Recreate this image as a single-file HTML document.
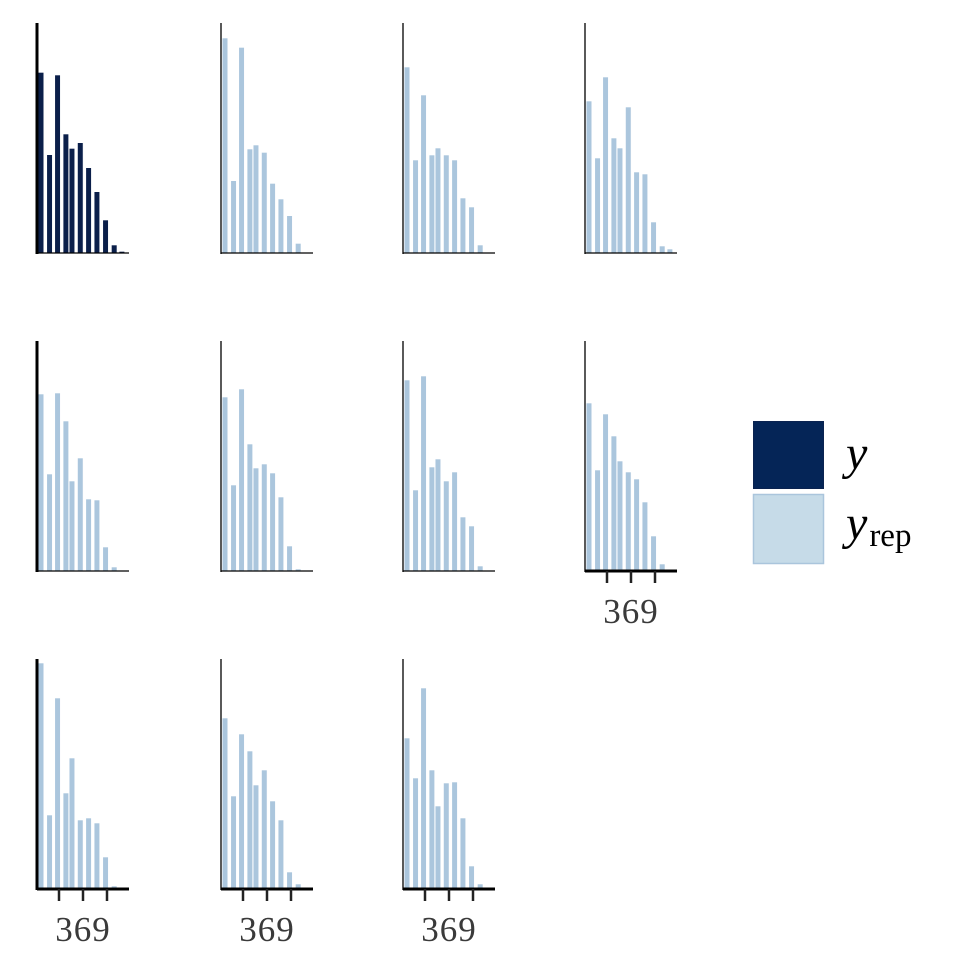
<!DOCTYPE html>
<html><head><meta charset="utf-8">
<style>
html,body{margin:0;padding:0;background:#fff;}
svg{display:block;}
</style></head>
<body>
<svg id="chart" width="975" height="975" viewBox="0 0 975 975" xmlns="http://www.w3.org/2000/svg">
<g id="panels"></g>
<g>
  <rect x="753.5" y="421.5" width="70" height="67" fill="#052557" stroke="#0b2350" stroke-width="1"/>
  <rect x="753.5" y="494.5" width="70" height="69" fill="#c6dbe8" stroke="#aac5dc" stroke-width="1.5"/>
  <text x="846" y="469" font-family="'Liberation Serif',serif" font-style="italic" font-size="48" fill="#000">y</text>
  <text x="846" y="539" font-family="'Liberation Serif',serif" font-size="48" fill="#000"><tspan font-style="italic">y</tspan><tspan font-size="33" dx="2" dy="7">rep</tspan></text>
</g>
</svg>
<script>
// bin centers (data units, shared x scale)
const binCenters = [0.75,1.82,2.82,3.86,4.62,5.66,6.7,7.74,8.82,9.9,10.86,11.8];
const xTicks = [3,6,9];
const tickLabel = "369";
// bar heights (counts) per panel
const panel1 = [180.6,98.3,178,119,104.6,110.3,85.3,61.3,33,8,1.6];
const panel2 = [215,72.3,205.6,104,108,100.6,69.6,54,37.3,9.6];
const panel3 = [186,93,158,98,105,98,93,55,46,8];
const panel4 = [152,95,176,115,105,146,81,79,31,7,4];
const panel5 = [177,97,178,150,90,113,72,71,24,4];
const panel6 = [174,86,182,127,103,107,98,74,25,2];
const panel7 = [191,81,195,104,112,90,99,54,45,5];
const panel8 = [168,101,157,135,110,99,92,69,35,7];
const panel9 = [226,74,191,96,131,69,71,66,32,3];
const panel10 = [171,93,155,138,104,119,88,69,17,5,1];
const panel11 = [151,111,201,119,83,106,107,71,23,5];

const NS = "http://www.w3.org/2000/svg";
const g = document.getElementById('panels');
const layout = [
  {d:panel1, ax:37, base:253, dark:true, left:true, ticks:false},
  {d:panel2, ax:221, base:253, ticks:false},
  {d:panel3, ax:403, base:253, ticks:false},
  {d:panel4, ax:585, base:253, ticks:false},
  {d:panel5, ax:37, base:571, left:true, ticks:false},
  {d:panel6, ax:221, base:571, ticks:false},
  {d:panel7, ax:403, base:571, ticks:false},
  {d:panel8, ax:585, base:571, ticks:true},
  {d:panel9, ax:37, base:889, left:true, ticks:true},
  {d:panel10, ax:221, base:889, ticks:true},
  {d:panel11, ax:403, base:889, ticks:true},
];
const PH = 228; // panel height px
function el(tag, attrs){const e=document.createElementNS(NS,tag);for(const k in attrs)e.setAttribute(k,attrs[k]);return e;}
layout.forEach((p,i)=>{
  const pg = el('g',{});
  
  
  g.appendChild(pg);
  const xs = v => p.ax - 2 + v*8;
  const maxV = Math.max(...p.d);
  const yMax = Math.max(maxV, 228);
  const ys = v => p.base - v/yMax*PH;
  p.d.forEach((v,j)=>{
    const cx = xs(binCenters[j]);
    const r = el('rect',{x:cx-2.8,y:ys(v),width:5.6,height:p.base-ys(v),
      fill:p.dark?'#0b1f4a':'#abc6dd', stroke:'#fff','stroke-width':0.6});
    
    
    pg.appendChild(r);
  });
  const yAxis = el('line',{x1:p.ax,y1:p.base-PH-2,x2:p.ax,y2:p.base+1,stroke:'#000','stroke-width':p.left?3:1.3});
  
  
  pg.appendChild(yAxis);
  const xAxis = el('line',{x1:p.ax,y1:p.base,x2:p.ax+92,y2:p.base,stroke:'#000','stroke-width':p.ticks?3:1.3});
  
  
  pg.appendChild(xAxis);
  if(p.ticks){
    xTicks.forEach(t=>{
      const tk = el('line',{x1:xs(t),y1:p.base,x2:xs(t),y2:p.base+12,stroke:'#222','stroke-width':2.5});
      
      
      pg.appendChild(tk);
    });
    const tx = el('text',{x:xs(6),y:p.base+52,'text-anchor':'middle','font-family':"'Liberation Serif',serif",'font-size':35,fill:'#3a3a3a','letter-spacing':'1'});
    tx.textContent = tickLabel;
    
    
    pg.appendChild(tx);
  }
});
</script>
</body></html>
